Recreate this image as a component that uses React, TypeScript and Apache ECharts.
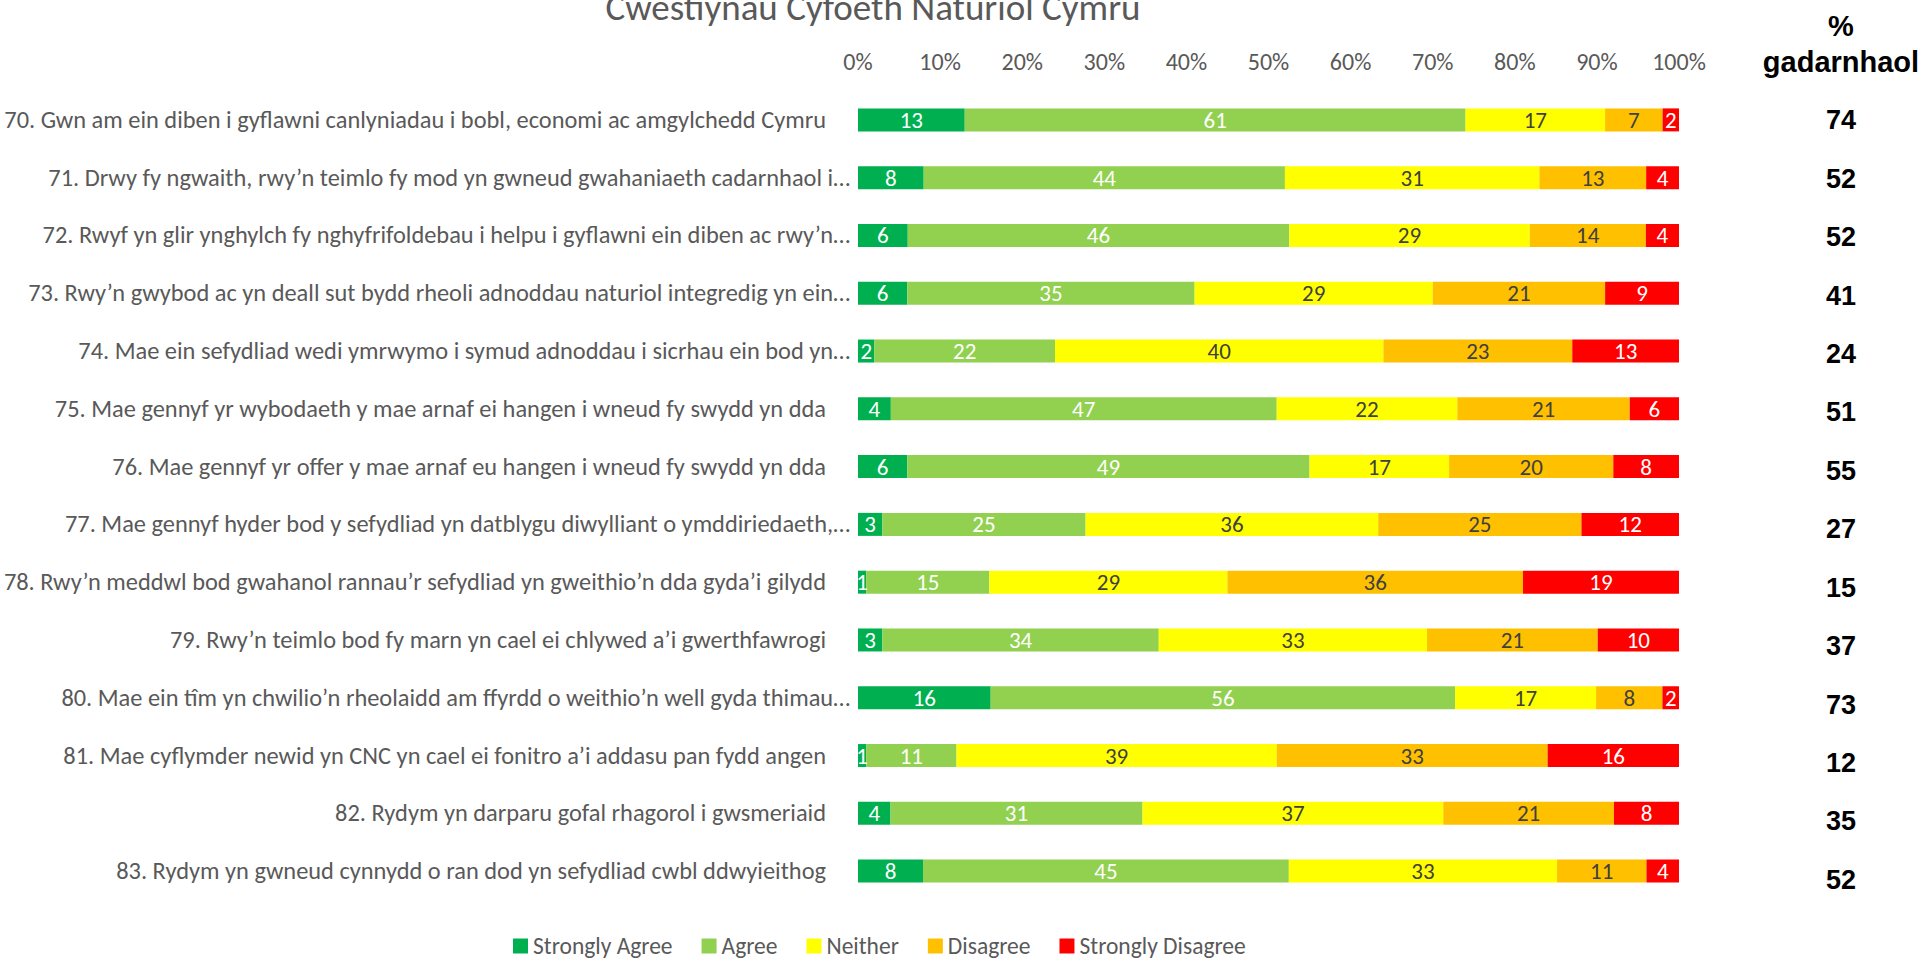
import React, { useEffect, useRef } from "react";
import * as echarts from "echarts";

const categories = [
  "70. Gwn am ein diben i gyflawni canlyniadau i bobl, economi ac amgylchedd Cymru",
  "71. Drwy fy ngwaith, rwy’n teimlo fy mod yn gwneud gwahaniaeth cadarnhaol i…",
  "72. Rwyf yn glir ynghylch fy nghyfrifoldebau i helpu i gyflawni ein diben ac rwy’n…",
  "73. Rwy’n gwybod ac yn deall sut bydd rheoli adnoddau naturiol integredig yn ein…",
  "74. Mae ein sefydliad wedi ymrwymo i symud adnoddau i sicrhau ein bod yn…",
  "75. Mae gennyf yr wybodaeth y mae arnaf ei hangen i wneud fy swydd yn dda",
  "76. Mae gennyf yr offer y mae arnaf eu hangen i wneud fy swydd yn dda",
  "77. Mae gennyf hyder bod y sefydliad yn datblygu diwylliant o ymddiriedaeth,…",
  "78. Rwy’n meddwl bod gwahanol rannau’r sefydliad yn gweithio’n dda gyda’i gilydd",
  "79. Rwy’n teimlo bod fy marn yn cael ei chlywed a’i gwerthfawrogi",
  "80. Mae ein tîm yn chwilio’n rheolaidd am ffyrdd o weithio’n well gyda thimau…",
  "81. Mae cyflymder newid yn CNC yn cael ei fonitro a’i addasu pan fydd angen",
  "82. Rydym yn darparu gofal rhagorol i gwsmeriaid",
  "83. Rydym yn gwneud cynnydd o ran dod yn sefydliad cwbl ddwyieithog",
];

const stronglyAgree = [13, 8, 6, 6, 2, 4, 6, 3, 1, 3, 16, 1, 4, 8];
const agree = [61, 44, 46, 35, 22, 47, 49, 25, 15, 34, 56, 11, 31, 45];
const neither = [17, 31, 29, 29, 40, 22, 17, 36, 29, 33, 17, 39, 37, 33];
const disagree = [7, 13, 14, 21, 23, 21, 20, 25, 36, 21, 8, 33, 21, 11];
const stronglyDisagree = [2, 4, 4, 9, 13, 6, 8, 12, 19, 10, 2, 16, 8, 4];
const positive = [74, 52, 52, 41, 24, 51, 55, 27, 15, 37, 73, 12, 35, 52];

const seriesNames = ["Strongly Agree", "Agree", "Neither", "Disagree", "Strongly Disagree"];
const seriesValues = [stronglyAgree, agree, neither, disagree, stronglyDisagree];
const seriesColors = ["#00B050", "#92D050", "#FFFF00", "#FFC000", "#FF0000"];
const labelColors = ["#FFFFFF", "#FFFFFF", "#404040", "#404040", "#FFFFFF"];

const FONT = "Carlito, 'Liberation Sans Narrow', Lato, sans-serif";
const BOLD = "'Liberation Sans', Arial, sans-serif";

export default function App() {
  const ref = useRef<HTMLDivElement>(null);
  useEffect(() => {
    if (!ref.current) return;
    const chart = echarts.init(ref.current, undefined, { renderer: "svg" });
    const totals = categories.map((_, i) =>
      seriesValues.reduce((s, arr) => s + arr[i], 0)
    );
    const barSeries = seriesValues.map((vals, k) => ({
      name: seriesNames[k],
      type: "bar",
      stack: "total",
      barWidth: 23,
      xAxisIndex: 0,
      yAxisIndex: 0,
      itemStyle: { color: seriesColors[k] },
      label: {
        show: true,
        position: "inside",
        color: labelColors[k],
        fontFamily: FONT,
        fontSize: 23,
        formatter: (p: any) => String(vals[p.dataIndex]),
      },
      data: vals.map((v, i) => (v / totals[i]) * 100),
    }));

    chart.setOption({
      animation: false,
      backgroundColor: "#ffffff",
      title: {
        text: "Cwestiynau Cyfoeth Naturiol Cymru",
        left: 868,
        top: -16,
        textAlign: "center",
        textStyle: { fontFamily: FONT, fontSize: 37, fontWeight: "normal", color: "#595959" },
      },
      legend: {
        bottom: -2,
        left: 508,
        itemWidth: 15,
        itemHeight: 15,
        itemGap: 29,
        icon: "rect",
        data: seriesNames,
        textStyle: { fontFamily: FONT, fontSize: 23.5, color: "#595959" },
      },
      graphic: [
        {
          type: "text",
          x: 1841,
          y: 8,
          style: {
            text: "%\ngadarnhaol",
            fontFamily: BOLD,
            fontWeight: "bold",
            fontSize: 29,
            lineHeight: 36,
            fill: "#000000",
            align: "center",
          },
        },
      ],
      grid: [
        { left: 858, right: 245, top: 91, bottom: 61, containLabel: false },
        { left: 1841, width: 1, top: 91, bottom: 52, containLabel: false },
      ],
      xAxis: [
        {
          gridIndex: 0,
          type: "value",
          position: "top",
          min: 0,
          max: 100,
          interval: 10,
          axisLine: { show: false },
          axisTick: { show: false },
          splitLine: { show: false },
          axisLabel: {
            formatter: "{value}%",
            fontFamily: FONT,
            fontSize: 24,
            color: "#595959",
            margin: 18,
          },
        },
        { gridIndex: 1, type: "value", show: false, min: 0, max: 1 },
      ],
      yAxis: [
        {
          gridIndex: 0,
          type: "category",
          inverse: true,
          data: categories,
          axisLine: { show: false },
          axisTick: { show: false },
          axisLabel: {
            margin: 8,
            fontFamily: FONT,
            fontSize: 24.4,
            color: "#595959",
            formatter: (v: string) => (v.endsWith("…") ? `{t|${v}}` : `{p|${v}}`),
            rich: {
              t: { fontFamily: FONT, fontSize: 24.4, color: "#595959" },
              p: { fontFamily: FONT, fontSize: 24.4, color: "#595959", padding: [0, 24, 0, 0] },
            },
          },
        },
        {
          gridIndex: 1,
          type: "category",
          inverse: true,
          data: positive.map(String),
          axisLine: { show: false },
          axisTick: { show: false },
          axisLabel: {
            margin: 0,
            align: "center",
            fontFamily: BOLD,
            fontWeight: "bold",
            fontSize: 27,
            color: "#000000",
          },
        },
      ],
      series: [
        ...barSeries,
        {
          type: "scatter",
          xAxisIndex: 1,
          yAxisIndex: 1,
          symbolSize: 0,
          silent: true,
          data: [],
        },
      ],
    });
    return () => chart.dispose();
  }, []);
  return (
    <div
      ref={ref}
      style={{ position: "fixed", left: 0, top: 0, width: 1924, height: 961 }}
    />
  );
}
